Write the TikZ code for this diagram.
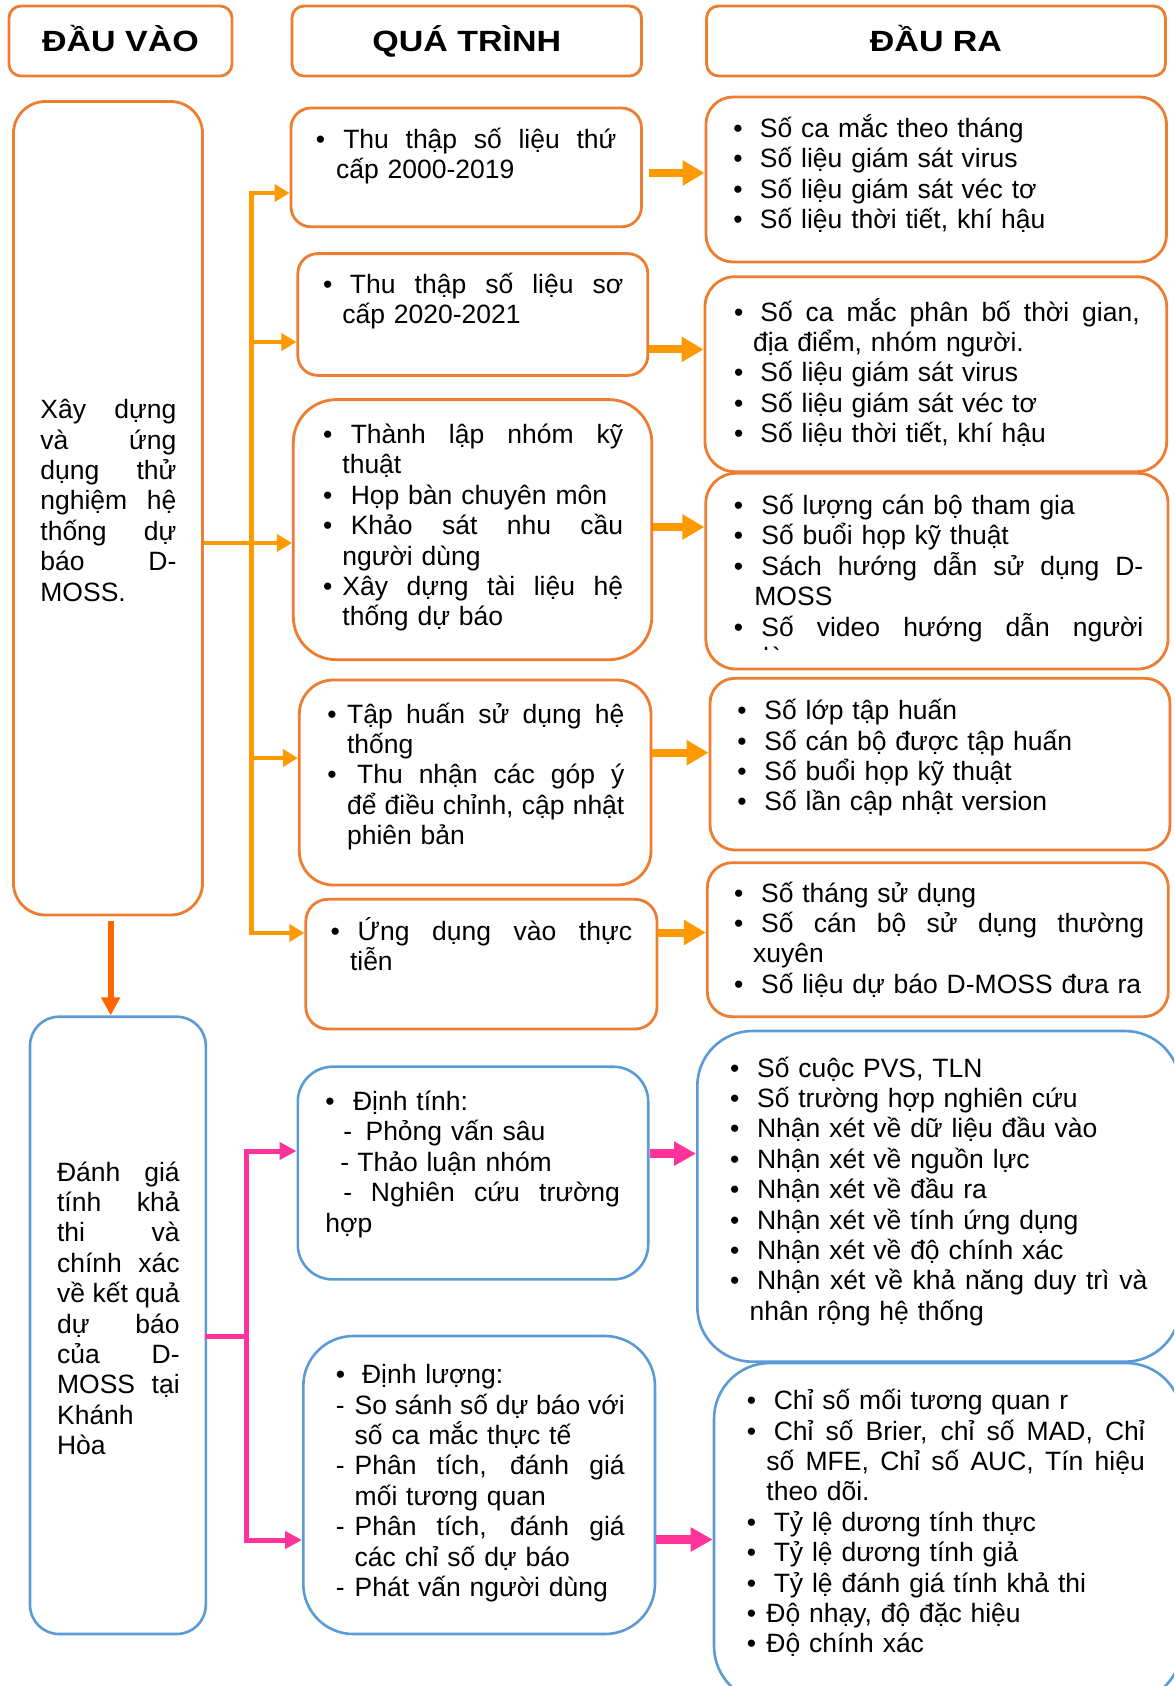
\documentclass[tikz,border=0pt]{standalone}
\usepackage{fontspec}
\setmainfont{Liberation Sans}
\usepackage{graphicx}
\usetikzlibrary{arrows.meta}

\definecolor{boxor}{HTML}{ED7D31}
\definecolor{busor}{HTML}{FF9900}
\definecolor{downor}{HTML}{FF6600}
\definecolor{boxbl}{HTML}{5B9BD5}
\definecolor{pinkar}{HTML}{FF3399}

\newlength\rowwd
\newcommand\bodyfont{\fontsize{13.25pt}{15.2pt}\selectfont\lineskiplimit=-20pt\relax}
\newcommand\leftfont{\fontsize{13.25pt}{14.85pt}\selectfont\lineskiplimit=-20pt\relax}
\newcommand\headtxt[1]{\scalebox{1.16}[1]{\fontsize{14.65pt}{17pt}\selectfont\bfseries #1}}
\newcommand\tstrut{\rule{0pt}{14pt}}
\newcommand\jrow[3]{\hbox to\rowwd{\tstrut\makebox[#2][l]{#1}\spaceskip=\fontdimen2\font plus 1fil\relax #3}}
\newcommand\nrow[3]{\hbox{\tstrut\makebox[#2][l]{#1}#3}}

\begin{document}
\begin{tikzpicture}[x=0.5pt, y=-0.5pt,
  obox/.style={draw=boxor, line width=1.4pt, inner sep=0pt},
  bbox/.style={draw=boxbl, line width=1.3pt, inner sep=0pt},
  head/.style={obox, rounded corners=6pt, minimum height=35pt, text height=10.5pt, text depth=0pt},
  txt/.style={anchor=north west, inner sep=0pt, text width=#1,
    font={\bodyfont\setlength\rowwd{#1}}},
  busline/.style={draw=busor, line width=2.25pt, line cap=rect},
  busarrow/.style={draw=busor, line width=2.25pt, -{Triangle[length=7.5pt,width=8.5pt]}},
  outarrow/.style={draw=busor, line width=4pt, -{Triangle[length=11pt,width=12pt]}},
  pinkline/.style={draw=pinkar, line width=2.5pt, line cap=rect},
  pinkarrow/.style={draw=pinkar, line width=2.5pt, -{Triangle[length=8.5pt,width=8.5pt]}},
  pinkout/.style={draw=pinkar, line width=4.2pt, -{Triangle[length=11pt,width=11.5pt]}},
  downarrow/.style={draw=downor, line width=3.2pt, -{Triangle[length=9pt,width=9pt]}}]

\clip (0,0) rectangle (1174,1686);
\fill[white] (0,0) rectangle (1174,1686);

\node[head, minimum width=111.5pt] at (120.5,41) (hin) {\headtxt{ĐẦU VÀO}};
\node[head, minimum width=174.75pt] at (466.75,41) (hpro) {\headtxt{QUÁ TRÌNH}};
\node[head, minimum width=229.4pt] at (936,41) (hout) {\headtxt{ĐẦU RA}};

\node[obox, minimum width=94.55pt, minimum height=406.75pt, rounded corners=16pt] at (108,508.25) (l1) {};
\node[bbox, minimum width=87.9pt, minimum height=308.65pt, rounded corners=14.5pt] at (117.9,1325.35) (l2) {};

\node[obox, minimum width=175.25pt, minimum height=59.4pt, rounded corners=10pt] at (466.25,167.4) (p1) {};
\node[obox, minimum width=175pt, minimum height=60.9pt, rounded corners=10pt] at (472.8,314.5) (p2) {};
\node[obox, minimum width=179.25pt, minimum height=130.05pt, rounded corners=21.5pt] at (472.55,529.65) (p3) {};
\node[obox, minimum width=175.85pt, minimum height=102.5pt, rounded corners=17pt] at (475.15,782.5) (p4) {};
\node[obox, minimum width=175.6pt, minimum height=64.85pt, rounded corners=11pt] at (481.4,964.15) (p5) {};
\node[bbox, minimum width=175.2pt, minimum height=106.35pt, rounded corners=17.5pt] at (473,1173.05) (p6) {};
\node[bbox, minimum width=175.85pt, minimum height=149pt, rounded corners=25pt] at (479.15,1485) (p7) {};

\node[obox, minimum width=230.25pt, minimum height=82.5pt, rounded corners=13.5pt] at (936.25,179.5) (o1) {};
\node[obox, minimum width=230.85pt, minimum height=97.5pt, rounded corners=15pt] at (935.85,374.2) (o2) {};
\node[obox, minimum width=231.1pt, minimum height=97.85pt, rounded corners=15pt] at (936.9,571.15) (o3) {};
\node[obox, minimum width=230pt, minimum height=85.85pt, rounded corners=12.5pt] at (940,764.15) (o4) {};
\node[obox, minimum width=230.5pt, minimum height=77pt, rounded corners=12.5pt] at (937.8,939.7) (o5) {};
\node[bbox, minimum width=241.35pt, minimum height=165.35pt, rounded corners=27.5pt] at (938.65,1196.35) (o6) {};
\node[bbox, minimum width=234pt, minimum height=169.5pt, rounded corners=28pt] at (948,1532.5) (o7) {};

\node[txt=68pt] at (40,390.3) (l1txt) {%
  \baselineskip=14.85pt
  \jrow{}{0pt}{Xây dựng}
  \jrow{}{0pt}{và ứng}
  \jrow{}{0pt}{dụng thử}
  \jrow{}{0pt}{nghiệm hệ}
  \jrow{}{0pt}{thống dự}
  \jrow{}{0pt}{báo D-}
  \nrow{}{0pt}{MOSS.}};
\node[txt=61.3pt] at (56.7,1152.7) (l2txt) {%
  \jrow{}{0pt}{Đánh giá}
  \jrow{}{0pt}{tính khả}
  \jrow{}{0pt}{thi và}
  \jrow{}{0pt}{chính xác}
  \jrow{}{0pt}{về kết quả}
  \jrow{}{0pt}{dự báo}
  \jrow{}{0pt}{của D-}
  \jrow{}{0pt}{MOSS tại}
  \nrow{}{0pt}{Khánh}
  \nrow{}{0pt}{Hòa}};

\node[txt=150.3pt] at (315.4,120) (p1txt) {%
  \jrow{•}{13.75pt}{Thu thập số liệu thứ}
  \nrow{}{10.15pt}{cấp 2000-2019}};
\node[txt=150.1pt] at (322.6,265) (p2txt) {%
  \jrow{•}{13.5pt}{Thu thập số liệu sơ}
  \nrow{}{9.7pt}{cấp 2020-2021}};
\node[txt=150.1pt] at (322.6,415) (p3txt) {%
  \jrow{•}{13.9pt}{Thành lập nhóm kỹ}
  \nrow{}{9.7pt}{thuật}
  \nrow{•}{13.9pt}{Họp bàn chuyên môn}
  \jrow{•}{13.9pt}{Khảo sát nhu cầu}
  \nrow{}{9.7pt}{người dùng}
  \jrow{•}{9.7pt}{Xây dựng tài liệu hệ}
  \nrow{}{9.7pt}{thống dự báo}};
\node[txt=148.5pt] at (327,694.7) (p4txt) {%
  \jrow{•}{9.85pt}{Tập huấn sử dụng hệ}
  \nrow{}{9.85pt}{thống}
  \jrow{•}{14.85pt}{Thu nhận các góp ý}
  \jrow{}{9.85pt}{để điều chỉnh, cập nhật}
  \nrow{}{9.85pt}{phiên bản}};
\node[txt=150.75pt] at (330.2,912) (p5txt) {%
  \jrow{•}{13.5pt}{Ứng dụng vào thực}
  \nrow{}{9.7pt}{tiễn}};
\node[txt=147.3pt] at (325,1082) (p6txt) {%
  \nrow{•}{13.85pt}{Định tính:}
  \nrow{}{9pt}{\makebox[11.1pt][l]{-}Phỏng vấn sâu}
  \nrow{}{7.5pt}{\makebox[8.5pt][l]{-}Thảo luận nhóm}
  \jrow{}{9pt}{\makebox[13.75pt][l]{-}Nghiên cứu trường}
  \nrow{}{0pt}{hợp}};
\node[txt=144.4pt] at (335.5,1355.3) (p7txt) {%
  \nrow{•}{13.1pt}{Định lượng:}
  \jrow{-}{9.4pt}{So sánh số dự báo với}
  \nrow{}{9.4pt}{số ca mắc thực tế}
  \jrow{-}{9.4pt}{Phân tích, đánh giá}
  \nrow{}{9.4pt}{mối tương quan}
  \jrow{-}{9.4pt}{Phân tích, đánh giá}
  \nrow{}{9.4pt}{các chỉ số dự báo}
  \kern2.5pt
  \nrow{-}{9.4pt}{Phát vấn người dùng}};

\node[txt=210pt] at (733,109) (o1txt) {%
  \nrow{•}{13.3pt}{Số ca mắc theo tháng}
  \nrow{•}{13.3pt}{Số liệu giám sát virus}
  \nrow{•}{13.3pt}{Số liệu giám sát véc tơ}
  \nrow{•}{13.3pt}{Số liệu thời tiết, khí hậu}};
\node[txt=202.8pt] at (733.7,292.7) (o2txt) {%
  \jrow{•}{13.15pt}{Số ca mắc phân bố thời gian,}
  \nrow{}{9.5pt}{địa điểm, nhóm người.}
  \nrow{•}{13.15pt}{Số liệu giám sát virus}
  \nrow{•}{13.15pt}{Số liệu giám sát véc tơ}
  \nrow{•}{13.15pt}{Số liệu thời tiết, khí hậu}};
\begin{scope}
\clip (700,470) rectangle (1174,649);
\node[txt=204.8pt] at (733.4,486) (o3txt) {%
  \nrow{•}{13.8pt}{Số lượng cán bộ tham gia}
  \nrow{•}{13.8pt}{Số buổi họp kỹ thuật}
  \jrow{•}{13.8pt}{Sách hướng dẫn sử dụng D-}
  \nrow{}{10.3pt}{MOSS}
  \jrow{•}{13.8pt}{Số video hướng dẫn người}
  \nrow{}{10.3pt}{dùng}};
\end{scope}
\node[txt=210pt] at (737,691.3) (o4txt) {%
  \nrow{•}{13.5pt}{Số lớp tập huấn}
  \nrow{•}{13.5pt}{Số cán bộ được tập huấn}
  \nrow{•}{13.5pt}{Số buổi họp kỹ thuật}
  \nrow{•}{13.5pt}{Số lần cập nhật version}};
\node[txt=205pt] at (733.7,873.7) (o5txt) {%
  \nrow{•}{13.5pt}{Số tháng sử dụng}
  \jrow{•}{13.5pt}{Số cán bộ sử dụng thường}
  \nrow{}{9.5pt}{xuyên}
  \nrow{•}{13.5pt}{Số liệu dự báo D-MOSS đưa ra}};
\node[txt=208.6pt] at (729.7,1048.7) (o6txt) {%
  \nrow{•}{13.5pt}{Số cuộc PVS, TLN}
  \nrow{•}{13.5pt}{Số trường hợp nghiên cứu}
  \nrow{•}{13.5pt}{Nhận xét về dữ liệu đầu vào}
  \nrow{•}{13.5pt}{Nhận xét về nguồn lực}
  \nrow{•}{13.5pt}{Nhận xét về đầu ra}
  \nrow{•}{13.5pt}{Nhận xét về tính ứng dụng}
  \nrow{•}{13.5pt}{Nhận xét về độ chính xác}
  \jrow{•}{13.5pt}{Nhận xét về khả năng duy trì và}
  \nrow{}{9.8pt}{nhân rộng hệ thống}};
\node[txt=199pt] at (746.4,1381.3) (o7txt) {%
  \nrow{•}{13.5pt}{Chỉ số mối tương quan r}
  \jrow{•}{13.5pt}{Chỉ số Brier, chỉ số MAD, Chỉ}
  \jrow{}{9.8pt}{số MFE, Chỉ số AUC, Tín hiệu}
  \nrow{}{9.8pt}{theo dõi.}
  \nrow{•}{13.5pt}{Tỷ lệ dương tính thực}
  \nrow{•}{13.5pt}{Tỷ lệ dương tính giả}
  \nrow{•}{13.5pt}{Tỷ lệ đánh giá tính khả thi}
  \nrow{•}{9.8pt}{Độ nhạy, độ đặc hiệu}
  \nrow{•}{9.8pt}{Độ chính xác}};

\coordinate (obus) at (251.6,543);
\draw[busline] (obus |- 0,193) -- (obus |- 0,933);
\draw[busarrow] (obus |- 0,193) -- (p1.west |- 0,193);
\draw[busarrow] (obus |- 0,342) -- (p2.west |- 0,342);
\draw[busarrow] (l1.east |- 0,543) -- (p3.west |- 0,543);
\draw[busarrow] (obus |- 0,758) -- (p4.west |- 0,758);
\draw[busarrow] (obus |- 0,933) -- (p5.west |- 0,933);

\draw[outarrow, shorten <=3.25pt] (p1.east |- 0,173) -- (o1.west |- 0,173);
\draw[outarrow] (p2.east |- 0,349.4) -- (o2.west |- 0,349.4);
\draw[outarrow] (p3.east |- 0,527) -- (o3.west |- 0,527);
\draw[outarrow] (p4.east |- 0,752.7) -- (o4.west |- 0,752.7);
\draw[outarrow] (p5.east |- 0,932.5) -- (o5.west |- 0,932.5);

\draw[downarrow, shorten <=2.5pt] (l1.south -| 110.7,0) -- (l2.north -| 110.7,0);

\coordinate (pbus) at (246.7,1336);
\draw[pinkline] (pbus |- 0,1151) -- (pbus |- 0,1540);
\draw[pinkline] (l2.east |- 0,1336) -- (pbus);
\draw[pinkarrow] (pbus |- 0,1151) -- (p6.west |- 0,1151);
\draw[pinkarrow] (pbus |- 0,1540) -- (p7.west |- 0,1540);

\draw[pinkout] (p6.east |- 0,1153.6) -- (o6.west |- 0,1153.6);
\draw[pinkout] (p7.east |- 0,1539.5) -- (o7.west |- 0,1539.5);
\end{tikzpicture}
\end{document}
